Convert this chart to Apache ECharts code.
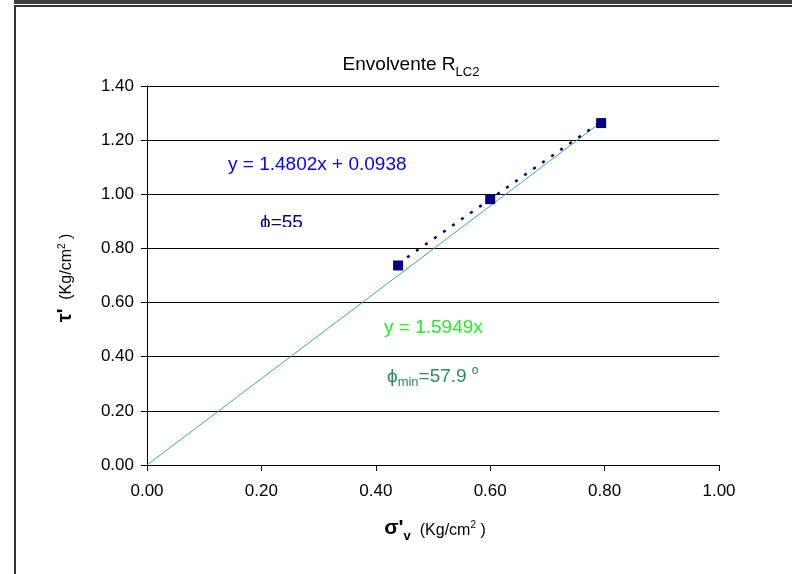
<!DOCTYPE html>
<html>
<head>
<meta charset="utf-8">
<title>Envolvente RLC2</title>
<script src="https://cdn.jsdelivr.net/npm/echarts@6/dist/echarts.min.js"></script>
<style>
  html, body { margin: 0; padding: 0; background: #fff; }
  #chart { width: 792px; height: 574px; }
</style>
</head>
<body>
<div id="chart"></div>
<script>
// Measured points: effective normal stress vs shear stress (Kg/cm²)
const sigmaV = [0.439, 0.600, 0.794];
const tau = [0.737, 0.982, 1.263];

// Fitted envelope y = a·x + b and the through-origin envelope y = m·x
const fitSlope = 1.4802;
const fitIntercept = 0.0938;
const originSlope = 1.5949;

const xTicks = [0, 0.2, 0.4, 0.6, 0.8, 1.0];
const yTicks = [0, 0.2, 0.4, 0.6, 0.8, 1.0, 1.2, 1.4];

const FONT = '"Liberation Sans", Arial, sans-serif';

const xFirst = sigmaV[0];
const xLast = sigmaV[sigmaV.length - 1];
const fitLine = [
  [xFirst, fitSlope * xFirst + fitIntercept],
  [xLast, fitSlope * xLast + fitIntercept]
];
const originLine = [
  [0, 0],
  [xLast, originSlope * xLast]
];

const chart = echarts.init(document.getElementById('chart'), null, { renderer: 'canvas' });

const axisText = { color: '#000', fontFamily: FONT, fontSize: 17 };

chart.setOption({
  animation: false,
  backgroundColor: '#fff',
  grid: { left: 147, right: 73, top: 86, bottom: 109, containLabel: false },
  xAxis: {
    type: 'value',
    min: xTicks[0],
    max: xTicks[xTicks.length - 1],
    interval: 0.2,
    axisLine: { show: true, onZero: false, lineStyle: { color: '#000', width: 1 } },
    axisTick: { show: true, inside: false, length: 6, lineStyle: { color: '#000' } },
    axisLabel: Object.assign({ margin: 18, formatter: v => v.toFixed(2) }, axisText),
    splitLine: { show: false }
  },
  yAxis: {
    type: 'value',
    min: yTicks[0],
    max: yTicks[yTicks.length - 1],
    interval: 0.2,
    axisLine: { show: true, onZero: false, lineStyle: { color: '#000', width: 1 } },
    axisTick: { show: true, inside: false, length: 6, lineStyle: { color: '#000' } },
    axisLabel: Object.assign({ margin: 13, formatter: v => v.toFixed(2) }, axisText),
    splitLine: { show: true, lineStyle: { color: '#000', width: 1 } }
  },
  series: [
    {
      name: 'origen',
      type: 'line',
      data: originLine,
      showSymbol: false,
      lineStyle: { color: '#3cb371', width: 1 },
      z: 2
    },
    {
      name: 'ajuste',
      type: 'line',
      data: fitLine,
      showSymbol: false,
      lineStyle: { color: '#000080', width: 2.5, type: [3, 8] },
      z: 3
    },
    {
      name: 'ensayos',
      type: 'scatter',
      data: sigmaV.map((x, i) => [x, tau[i]]),
      symbol: 'rect',
      symbolSize: 10,
      itemStyle: { color: '#000080', opacity: 1 },
      z: 4
    }
  ],
  graphic: [
    // chart frame
    { type: 'rect', shape: { x: 14, y: 0, width: 778, height: 4 }, style: { fill: '#3c3c3c' }, silent: true },
    { type: 'rect', shape: { x: 14, y: 5, width: 778, height: 2 }, style: { fill: '#333' }, silent: true },
    { type: 'rect', shape: { x: 14, y: 5, width: 2, height: 569 }, style: { fill: '#333' }, silent: true },
    // title
    {
      type: 'text', x: 411, y: 62,
      style: {
        text: '{m|Envolvente R}{s|LC2}',
        align: 'center', verticalAlign: 'middle',
        fontFamily: FONT,
        rich: {
          m: { fontSize: 19, fontFamily: FONT, fill: '#000', verticalAlign: 'bottom', lineHeight: 24 },
          s: { fontSize: 13, fontFamily: FONT, fill: '#000', verticalAlign: 'bottom', lineHeight: 18, padding: [0, 0, -5, 0] }
        }
      }
    },
    // y axis name
    {
      type: 'text', x: 64, y: 278, rotation: Math.PI / 2,
      style: {
        text: "{b|τ'}{n|  (Kg/cm}{p|2}{n| )}",
        align: 'center', verticalAlign: 'middle',
        fontFamily: FONT,
        rich: {
          b: { fontSize: 20, fontWeight: 'bold', fontFamily: FONT, fill: '#000', verticalAlign: 'bottom', lineHeight: 22 },
          n: { fontSize: 16, fontFamily: FONT, fill: '#000', verticalAlign: 'bottom', lineHeight: 22 },
          p: { fontSize: 10, fontFamily: FONT, fill: '#000', verticalAlign: 'top', lineHeight: 12, padding: [4, 0, 0, 0] }
        }
      }
    },
    // x axis name
    {
      type: 'text', x: 435, y: 527,
      style: {
        text: "{b|σ'}{s|v}{n|  (Kg/cm}{p|2}{n| )}",
        align: 'center', verticalAlign: 'middle',
        fontFamily: FONT,
        rich: {
          b: { fontSize: 21, fontWeight: 'bold', fontFamily: FONT, fill: '#000', verticalAlign: 'bottom', lineHeight: 24 },
          s: { fontSize: 13, fontWeight: 'bold', fontFamily: FONT, fill: '#000', verticalAlign: 'bottom', lineHeight: 24, padding: [0, 0, -4, 0] },
          n: { fontSize: 16, fontFamily: FONT, fill: '#000', verticalAlign: 'bottom', lineHeight: 24 },
          p: { fontSize: 10, fontFamily: FONT, fill: '#000', verticalAlign: 'top', lineHeight: 12, padding: [5, 0, 0, 0] }
        }
      }
    },
    // fitted envelope equation
    {
      type: 'text', x: 228, y: 155,
      style: { text: 'y = 1.4802x + 0.0938', fontSize: 19, fontFamily: FONT, fill: '#0000ff' }
    },
    // friction angle of the fitted envelope (cut off at the bottom)
    {
      type: 'text', x: 260, y: 213,
      style: { text: 'ϕ=55', fontSize: 19, fontFamily: FONT, fill: '#000080' }
    },
    { type: 'rect', shape: { x: 252, y: 227, width: 70, height: 16 }, style: { fill: '#fff' }, z: 10, silent: true },
    // through-origin envelope equation
    {
      type: 'text', x: 384, y: 318,
      style: { text: 'y = 1.5949x', fontSize: 19, fontFamily: FONT, fill: '#22ee22' }
    },
    {
      type: 'text', x: 387, y: 364,
      style: {
        text: '{m|ϕ}{s|min}{m|=57.9 }{o|º}',
        fontFamily: FONT,
        rich: {
          m: { fontSize: 19, fontFamily: FONT, fill: '#2e8b57', verticalAlign: 'bottom', lineHeight: 22 },
          s: { fontSize: 13, fontFamily: FONT, fill: '#2e8b57', verticalAlign: 'bottom', lineHeight: 22, padding: [0, 0, -3, 0] },
          o: { fontSize: 17, fontFamily: FONT, fill: '#2e8b57', verticalAlign: 'top', lineHeight: 18, padding: [3, 0, 0, 0] }
        }
      }
    }
  ]
});
</script>
</body>
</html>
